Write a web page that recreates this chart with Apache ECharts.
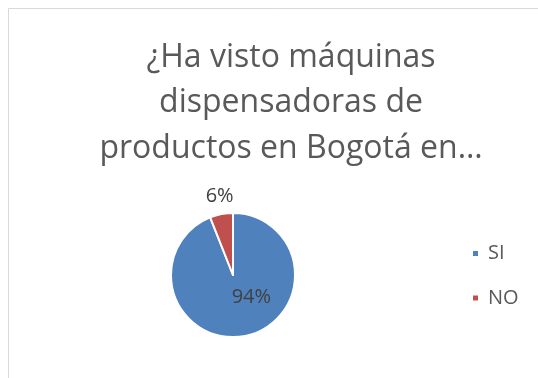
<!DOCTYPE html>
<html>
<head>
<meta charset="utf-8">
<script src="https://cdn.jsdelivr.net/npm/echarts@6/dist/echarts.min.js"></script>
<style>
  html, body { margin: 0; padding: 0; background: #fff; }
  #chart { width: 538px; height: 378px; }
</style>
</head>
<body>
<div id="chart"></div>
<script>
// Survey answers and their shares (percent)
const categories = ['SI', 'NO'];
const shares = [94, 6];
const colors = ['#4f81bd', '#c0504d'];
const titleLines = ['¿Ha visto máquinas', 'dispensadoras de', 'productos en Bogotá en…'];

const FONT = '"Open Sans", "Liberation Sans", sans-serif';

const chart = echarts.init(document.getElementById('chart'), null, { renderer: 'canvas' });

const pieData = categories.map((name, i) => ({
  name: name,
  value: shares[i],
  itemStyle: { color: colors[i] },
  label: i === 0
    ? { position: 'inside', offset: [12, -11.5] }
    : { position: 'outside', offset: [18, -14] }
}));

chart.setOption({
  animation: false,
  backgroundColor: '#ffffff',
  graphic: [
    {
      type: 'rect',
      shape: { x: 8.5, y: 8.5, width: 600, height: 500 },
      style: { fill: 'none', stroke: '#d9d9d9', lineWidth: 1 },
      silent: true
    },
    {
      type: 'text',
      x: 291,
      y: 35,
      silent: true,
      style: {
        text: titleLines.join('\n'),
        font: '32px ' + FONT,
        fill: '#595959',
        align: 'center',
        verticalAlign: 'top',
        lineHeight: 45.5
      }
    }
  ],
  legend: {
    orient: 'vertical',
    left: 471,
    top: 243.5,
    padding: 0,
    itemWidth: 7,
    itemHeight: 7,
    itemGap: 24.5,
    icon: 'rect',
    textStyle: { color: '#595959', fontSize: 20, fontFamily: FONT, padding: [0, 0, 0, 4] },
    data: categories
  },
  series: [{
    type: 'pie',
    center: [233, 275],
    radius: 62,
    startAngle: 90,
    clockwise: true,
    data: pieData,
    itemStyle: { borderColor: '#ffffff', borderWidth: 2 },
    label: {
      formatter: '{d}%',
      color: '#404040',
      fontSize: 20,
      fontFamily: FONT
    },
    labelLine: { show: false, length: 4, length2: 0 }
  }]
});
</script>
</body>
</html>
